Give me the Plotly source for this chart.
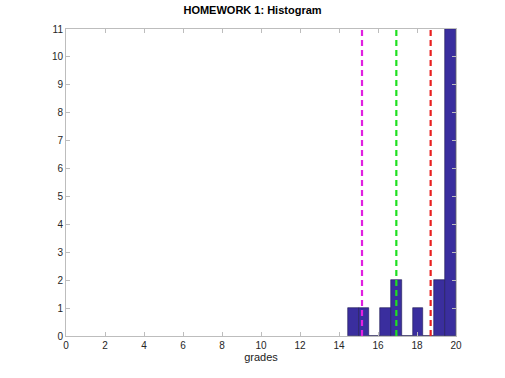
import plotly.graph_objects as go

# Histogram data (bins from 14.444 to 20, width 5/9)
bin_edges = [14.444, 15.0, 15.556, 16.111, 16.667, 17.222, 17.778, 18.333, 18.889, 19.444, 20.0]
counts = [1, 1, 0, 1, 2, 0, 1, 0, 2, 11]

# Vertical reference lines
line_values = [15.18, 16.94, 18.70]
line_colors = ["#E020E0", "#20E020", "#E82020"]

x_ticks = [0, 2, 4, 6, 8, 10, 12, 14, 16, 18, 20]
y_ticks = list(range(0, 12))

centers = [(bin_edges[i] + bin_edges[i + 1]) / 2 for i in range(len(counts))]
widths = [bin_edges[i + 1] - bin_edges[i] for i in range(len(counts))]

fig = go.Figure()
fig.add_trace(go.Bar(
    x=centers, y=counts, width=widths,
    marker=dict(color="#3A2E9E", line=dict(color="#1E1A50", width=0.6)),
    showlegend=False, hoverinfo="skip",
))
for v, c in zip(line_values, line_colors):
    fig.add_trace(go.Scatter(
        x=[v, v], y=[0, 11], mode="lines",
        line=dict(color=c, width=2.2, dash="6px,4px"),
        showlegend=False, hoverinfo="skip",
    ))

axis_common = dict(
    showgrid=False, zeroline=False, showline=True, linecolor="#BDBDBD", linewidth=1,
    mirror="ticks", ticks="inside", ticklen=4, tickcolor="#BDBDBD", tickwidth=1,
    tickfont=dict(family="Liberation Sans, Arial, sans-serif", size=10, color="#262626"),
)

fig.update_layout(
    width=505, height=378,
    margin=dict(l=66, r=49, t=29, b=42),
    paper_bgcolor="white", plot_bgcolor="white",
    title=dict(text="<b>HOMEWORK 1: Histogram</b>", x=0.5, xanchor="center",
               y=0.972, yanchor="middle",
               font=dict(family="Liberation Sans, Arial, sans-serif", size=11, color="#000000")),
    xaxis=dict(range=[0, 20], tickvals=x_ticks, **axis_common,
               title=dict(text="grades", standoff=2,
                          font=dict(family="Liberation Sans, Arial, sans-serif", size=11, color="#222222"))),
    yaxis=dict(range=[0, 11], tickvals=y_ticks, **axis_common),
    bargap=0,
)

fig.write_html("out.html", config={"displayModeBar": False},
               post_script="document.body.style.margin='0';")
